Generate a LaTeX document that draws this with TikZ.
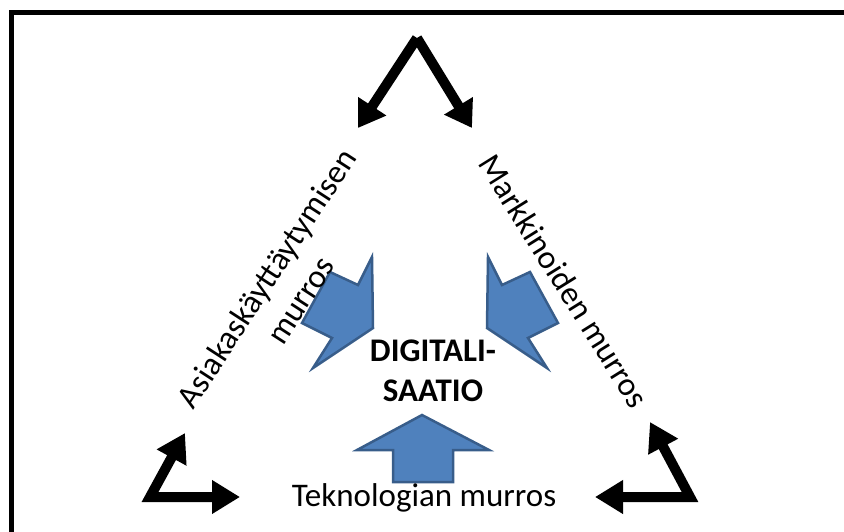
\documentclass[tikz,border=0pt]{standalone}
\usepackage{fontspec}
\setmainfont{Carlito}
\usepackage{tikz}
\usetikzlibrary{arrows.meta}

\definecolor{murrosblue}{HTML}{4F81BD}
\definecolor{murrosedge}{HTML}{385D8A}

\begin{document}
\begin{tikzpicture}[x=1pt, y=-1pt,
  thickarrow/.style={line width=10pt, -{Triangle[length=26pt,width=32pt]}},
  cornerarrow/.style={line width=10pt, line join=miter, {Triangle[length=28pt,width=32pt]}-{Triangle[length=28pt,width=32pt]}},
  blockarrow/.style={fill=murrosblue, draw=murrosedge, line width=2.5pt, line join=miter},
  sidetext/.style={font=\fontsize{33}{40}\selectfont, align=center, inner sep=0pt}]
\useasboundingbox (0,0) rectangle (844,532);
\draw[line width=5pt] (11.5,532) -- (11.5,12.5) -- (844,12.5);

\coordinate (apex) at (417,38);
\coordinate (toptipL) at (358,128);
\coordinate (toptipR) at (472,128);
\coordinate (lefttipU) at (185,433);
\coordinate (leftcorner) at (150,497);
\coordinate (lefttipR) at (240,497);
\coordinate (righttipU) at (650,422);
\coordinate (rightcorner) at (690,497);
\coordinate (righttipL) at (595,497);

\draw[thickarrow] (apex) -- (toptipL);
\draw[thickarrow] (apex) -- (toptipR);
\draw[cornerarrow] (lefttipU) -- (leftcorner) -- (lefttipR);
\draw[cornerarrow] (righttipU) -- (rightcorner) -- (righttipL);

\draw[blockarrow] (372,257) -- (358,285) -- (330,272) -- (302,323) -- (332,338) -- (313,368) -- (373,328) -- cycle;
\draw[blockarrow] (488,257) -- (502,285) -- (530,272) -- (558,323) -- (528,338) -- (547,368) -- (487,328) -- cycle;
\draw[blockarrow] (422,415) -- (489,450) -- (453,450) -- (453,482) -- (393,482) -- (393,450) -- (357,450) -- cycle;

\node[sidetext, rotate=57] (asiakas) at (283,289) {Asiakaskäyttäytymisen\\murros};
\node[sidetext, rotate=-58] (markkinat) at (564,281) {Markkinoiden murros};
\node[sidetext, font=\fontsize{33}{40}\selectfont\bfseries] (digi) at (433,371) {DIGITALI-\\SAATIO};
\node[sidetext, anchor=base] (tekno) at (424,506) {Teknologian murros};
\end{tikzpicture}
\end{document}
